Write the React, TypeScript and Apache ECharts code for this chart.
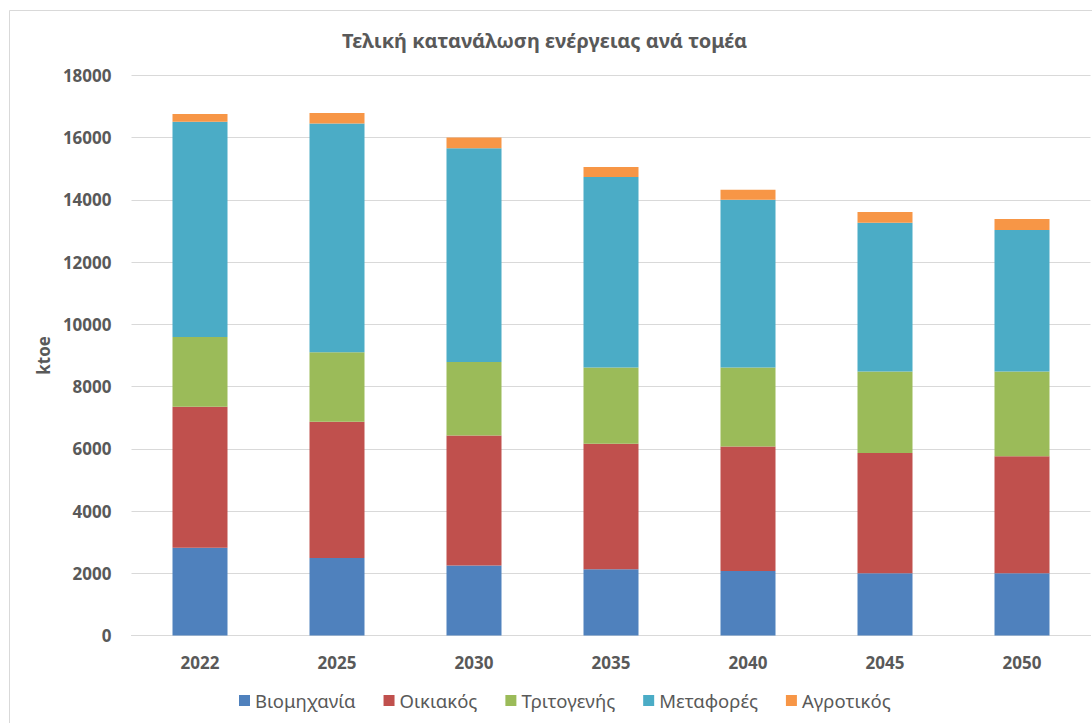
import React, { useEffect, useRef } from "react";
import * as echarts from "echarts";

const categories = ["2022", "2025", "2030", "2035", "2040", "2045", "2050"];
const industry = [2820, 2490, 2250, 2130, 2070, 2000, 2000];
const residential = [4530, 4375, 4180, 4030, 4005, 3860, 3760];
const tertiary = [2245, 2240, 2355, 2455, 2540, 2625, 2725];
const transport = [6915, 7350, 6875, 6120, 5385, 4780, 4545];
const agriculture = [245, 330, 340, 320, 320, 340, 350];
const seriesNames = ["Βιομηχανία", "Οικιακός", "Τριτογενής", "Μεταφορές", "Αγροτικός"];
const seriesColors = ["#4f81bd", "#c0504d", "#9bbb59", "#4bacc6", "#f79646"];
const yTicks = { min: 0, max: 18000, interval: 2000 };

const FONT = "'Noto Sans', 'Open Sans', sans-serif";

export default function App() {
  const ref = useRef<HTMLDivElement>(null);
  useEffect(() => {
    if (!ref.current) return;
    const chart = echarts.init(ref.current, null, { renderer: "svg" });
    const data = [industry, residential, tertiary, transport, agriculture];
    chart.setOption({
      animation: false,
      backgroundColor: "#ffffff",
      textStyle: { fontFamily: FONT },
      title: {
        text: "Τελική κατανάλωση ενέργειας ανά τομέα",
        left: 337,
        top: 25,
        textStyle: { fontFamily: FONT, fontSize: 20, fontWeight: "bold", color: "#595959" },
      },
      graphic: [
        {
          type: "rect",
          shape: { x: 9.5, y: 10.5, width: 1100, height: 730 },
          style: { fill: "none", stroke: "#d9d9d9", lineWidth: 1 },
          silent: true,
        },
      ],
      legend: {
        bottom: 8,
        left: 234,
        itemWidth: 11,
        itemHeight: 11,
        itemGap: 28,
        icon: "rect",
        textStyle: { fontFamily: FONT, fontSize: 18.5, color: "#595959" },
        data: seriesNames,
      },
      grid: { left: 131.5, right: 1.5, top: 75.3, bottom: 87.5, containLabel: false },
      xAxis: {
        type: "category",
        data: categories,
        axisLine: { lineStyle: { color: "#d9d9d9" } },
        axisTick: { show: false },
        axisLabel: { fontFamily: FONT, fontSize: 17, fontWeight: "bold", color: "#595959", margin: 18 },
      },
      yAxis: {
        type: "value",
        min: yTicks.min,
        max: yTicks.max,
        interval: yTicks.interval,
        name: "ktoe",
        nameLocation: "middle",
        nameGap: 80,
        nameTextStyle: { fontFamily: FONT, fontSize: 17, fontWeight: "bold", color: "#595959" },
        axisLine: { show: false },
        axisTick: { show: false },
        splitLine: { lineStyle: { color: "#d9d9d9", width: 1 } },
        axisLabel: {
          fontFamily: FONT,
          fontSize: 17,
          fontWeight: "bold",
          color: "#595959",
          margin: 20,
          formatter: (v: number) => String(v),
        },
      },
      series: seriesNames.map((name, i) => ({
        name,
        type: "bar",
        stack: "total",
        barWidth: 55,
        data: data[i],
        itemStyle: { color: seriesColors[i] },
      })),
    });
    return () => chart.dispose();
  }, []);
  return (
    <div
      ref={ref}
      style={{ position: "fixed", left: 0, top: 0, width: 1092, height: 723, background: "#fff" }}
    />
  );
}
